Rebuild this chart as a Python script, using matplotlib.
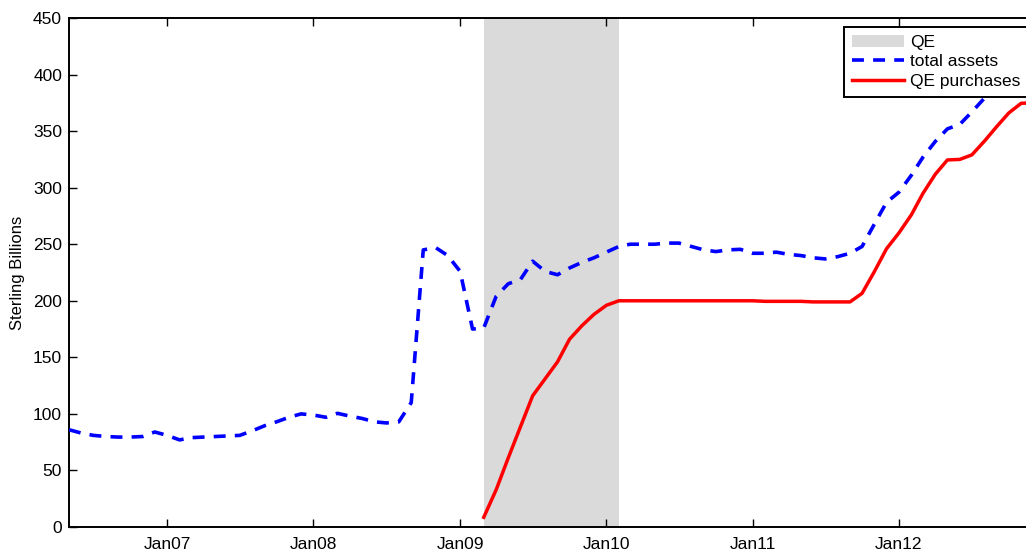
import numpy as np
import pandas as pd
import matplotlib
matplotlib.use("Agg")
import matplotlib.pyplot as plt
import matplotlib.dates as mdates
from matplotlib.patches import Patch
from matplotlib.lines import Line2D

plt.rcParams.update({"font.family": ["Liberation Sans", "DejaVu Sans"],
                     "font.size": 12.5, "lines.scale_dashes": False})

# monthly data, May 2006 - Dec 2012 (sterling billions)
months = pd.date_range("2006-05-01", "2012-12-01", freq="MS")
total_assets = [86, 83, 81, 80, 79.5, 79.5, 80, 84,            # 2006 May-Dec
                81, 77, 79, 79.5, 80, 80.5, 81, 85, 89.5, 93, 97, 100,   # 2007
                99, 97, 100.5, 98, 96, 93, 92, 93, 110, 245, 247, 240,   # 2008
                226, 175, 176, 204, 215, 219, 235, 226, 223, 229, 234, 238,  # 2009
                243, 248, 250, 250, 250, 251, 251, 248, 245, 243.5, 245, 245.5,  # 2010
                242, 242, 243, 241, 240, 238, 237, 239, 242, 248, 268, 287,  # 2011
                296, 311, 327, 341, 352, 356, 367, 379, 392, 400, 404, 406]  # 2012

qe_months = pd.date_range("2009-03-01", "2012-12-01", freq="MS")
qe_purchases = [8.6, 33, 61, 89, 116, 131, 146, 166, 178, 188,    # 2009 Mar-Dec
                196, 200, 200, 200, 200, 200, 200, 200, 200, 200, 200, 200,  # 2010
                200, 199.5, 199.5, 199.5, 199.5, 199, 199, 199, 199, 206.6, 226, 246,  # 2011
                260, 276, 295, 312, 324.5, 325, 329, 341, 354, 366, 374.6, 375]  # 2012

qe_start, qe_end = pd.Timestamp("2009-03-01"), pd.Timestamp("2010-02-01")
yticks = np.arange(0, 451, 50)
xticks = pd.to_datetime(["2007-01-01", "2008-01-01", "2009-01-01",
                         "2010-01-01", "2011-01-01", "2012-01-01"])

DASH = (0, (8.6, 6.6))
W, H = 1026, 550
fig = plt.figure(figsize=(W / 100, H / 100), dpi=100)
# axes run past the right edge, as in the cropped original
ax = fig.add_axes([69 / W, 1 - 527 / H, (1040 - 69) / W, (527 - 18) / H])

ax.axvspan(qe_start, qe_end, color="#dadada", lw=0, zorder=1)
ax.plot(months, total_assets, color="#0000ff", lw=2.6, ls=DASH, zorder=3)
ax.plot(qe_months, qe_purchases, color="#ff0000", lw=2.5, zorder=3)

ax.set_xlim(pd.Timestamp("2006-05-01"), pd.Timestamp("2012-12-18"))
ax.set_ylim(0, 450)
ax.set_yticks(yticks)
ax.set_xticks(xticks)
ax.xaxis.set_major_formatter(mdates.DateFormatter("%b%y"))
ax.tick_params(direction="in", length=6, width=1, top=True, right=True)
ax.tick_params(axis="x", pad=7)
ax.tick_params(axis="y", pad=5)
ax.set_ylabel("Sterling Billions", fontsize=12, labelpad=6)
for s in ax.spines.values():
    s.set_linewidth(1.4)

handles = [Patch(facecolor="#dadada", edgecolor="none"),
           Line2D([], [], color="#0000ff", lw=2.6, ls=DASH),
           Line2D([], [], color="#ff0000", lw=2.5)]
leg = fig.legend(handles, ["QE", "total assets", "QE purchases"],
                 loc="upper left", bbox_to_anchor=(844 / W, 1 - 27 / H),
                 fancybox=False, framealpha=1, edgecolor="black",
                 handlelength=3.0, handletextpad=0.35, labelspacing=0.25,
                 borderpad=0.45, borderaxespad=0, fontsize=12.5)
leg.get_frame().set_linewidth(1.4)

fig.savefig("out.png", dpi=100)
